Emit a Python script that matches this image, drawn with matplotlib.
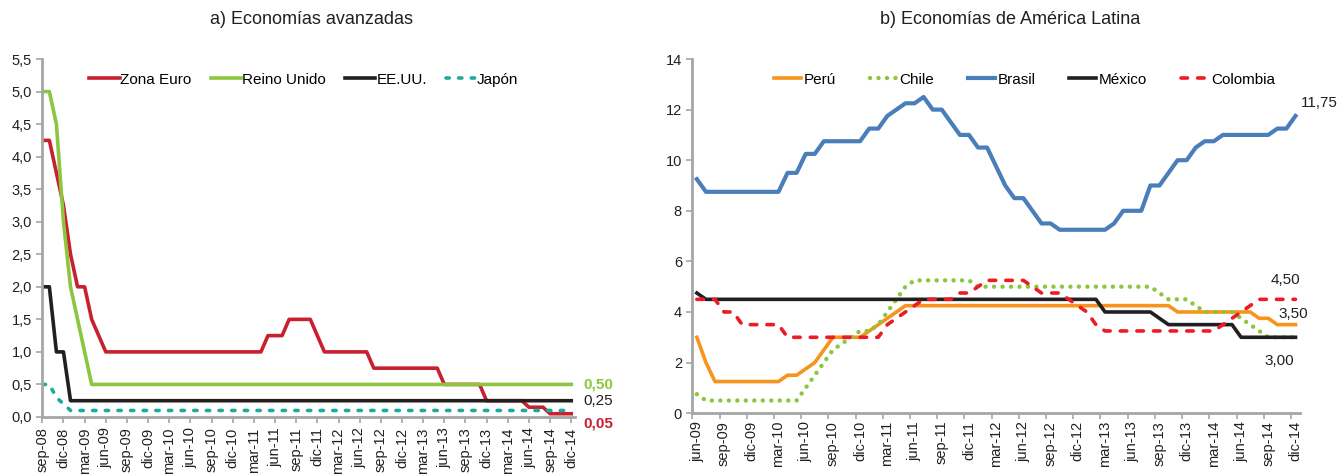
# -*- coding: utf-8 -*-
# Tasas de politica monetaria: economias avanzadas y America Latina
import matplotlib
matplotlib.use("Agg")
import matplotlib.pyplot as plt
from matplotlib.ticker import FuncFormatter

plt.rcParams["font.family"] = ["Liberation Sans", "DejaVu Sans"]

# ---------------- datos a) sep-08 .. dic-14 (mensual) ----------------
zona_euro = [4.25, 4.25, 3.75, 3.25,
             2.50, 2.00, 2.00, 1.50, 1.25, 1.00, 1.00, 1.00, 1.00, 1.00, 1.00, 1.00,
             1.00, 1.00, 1.00, 1.00, 1.00, 1.00, 1.00, 1.00, 1.00, 1.00, 1.00, 1.00,
             1.00, 1.00, 1.00, 1.00, 1.25, 1.25, 1.25, 1.50, 1.50, 1.50, 1.50, 1.25,
             1.00, 1.00, 1.00, 1.00, 1.00, 1.00, 1.00, 0.75, 0.75, 0.75, 0.75, 0.75,
             0.75, 0.75, 0.75, 0.75, 0.75, 0.50, 0.50, 0.50, 0.50, 0.50, 0.50, 0.25,
             0.25, 0.25, 0.25, 0.25, 0.25, 0.15, 0.15, 0.15, 0.05, 0.05, 0.05, 0.05]
reino_unido = [5.00, 5.00, 4.50, 3.00,
               2.00, 1.50, 1.00, 0.50, 0.50, 0.50, 0.50, 0.50, 0.50, 0.50, 0.50, 0.50,
               0.50, 0.50, 0.50, 0.50, 0.50, 0.50, 0.50, 0.50, 0.50, 0.50, 0.50, 0.50,
               0.50, 0.50, 0.50, 0.50, 0.50, 0.50, 0.50, 0.50, 0.50, 0.50, 0.50, 0.50,
               0.50, 0.50, 0.50, 0.50, 0.50, 0.50, 0.50, 0.50, 0.50, 0.50, 0.50, 0.50,
               0.50, 0.50, 0.50, 0.50, 0.50, 0.50, 0.50, 0.50, 0.50, 0.50, 0.50, 0.50,
               0.50, 0.50, 0.50, 0.50, 0.50, 0.50, 0.50, 0.50, 0.50, 0.50, 0.50, 0.50]
ee_uu = [2.00, 2.00, 1.00, 1.00,
         0.25, 0.25, 0.25, 0.25, 0.25, 0.25, 0.25, 0.25, 0.25, 0.25, 0.25, 0.25,
         0.25, 0.25, 0.25, 0.25, 0.25, 0.25, 0.25, 0.25, 0.25, 0.25, 0.25, 0.25,
         0.25, 0.25, 0.25, 0.25, 0.25, 0.25, 0.25, 0.25, 0.25, 0.25, 0.25, 0.25,
         0.25, 0.25, 0.25, 0.25, 0.25, 0.25, 0.25, 0.25, 0.25, 0.25, 0.25, 0.25,
         0.25, 0.25, 0.25, 0.25, 0.25, 0.25, 0.25, 0.25, 0.25, 0.25, 0.25, 0.25,
         0.25, 0.25, 0.25, 0.25, 0.25, 0.25, 0.25, 0.25, 0.25, 0.25, 0.25, 0.25]
japon = [0.50, 0.50, 0.30, 0.20,
         0.10, 0.10, 0.10, 0.10, 0.10, 0.10, 0.10, 0.10, 0.10, 0.10, 0.10, 0.10,
         0.10, 0.10, 0.10, 0.10, 0.10, 0.10, 0.10, 0.10, 0.10, 0.10, 0.10, 0.10,
         0.10, 0.10, 0.10, 0.10, 0.10, 0.10, 0.10, 0.10, 0.10, 0.10, 0.10, 0.10,
         0.10, 0.10, 0.10, 0.10, 0.10, 0.10, 0.10, 0.10, 0.10, 0.10, 0.10, 0.10,
         0.10, 0.10, 0.10, 0.10, 0.10, 0.10, 0.10, 0.10, 0.10, 0.10, 0.10, 0.10,
         0.10, 0.10, 0.10, 0.10, 0.10, 0.10, 0.10, 0.10, 0.10, 0.10, 0.10, 0.10]
ticks_a = ["sep-08", "dic-08", "mar-09", "jun-09", "sep-09", "dic-09", "mar-10",
           "jun-10", "sep-10", "dic-10", "mar-11", "jun-11", "sep-11", "dic-11",
           "mar-12", "jun-12", "sep-12", "dic-12", "mar-13", "jun-13", "sep-13",
           "dic-13", "mar-14", "jun-14", "sep-14", "dic-14"]

# ---------------- datos b) jun-09 .. dic-14 (mensual) ----------------
peru = [3.00, 2.00, 1.25, 1.25, 1.25, 1.25, 1.25,
        1.25, 1.25, 1.25, 1.50, 1.50, 1.75, 2.00, 2.50, 3.00, 3.00, 3.00, 3.00,
        3.25, 3.50, 3.75, 4.00, 4.25, 4.25, 4.25, 4.25, 4.25, 4.25, 4.25, 4.25,
        4.25, 4.25, 4.25, 4.25, 4.25, 4.25, 4.25, 4.25, 4.25, 4.25, 4.25, 4.25,
        4.25, 4.25, 4.25, 4.25, 4.25, 4.25, 4.25, 4.25, 4.25, 4.25, 4.00, 4.00,
        4.00, 4.00, 4.00, 4.00, 4.00, 4.00, 4.00, 3.75, 3.75, 3.50, 3.50, 3.50]
chile = [0.75, 0.50, 0.50, 0.50, 0.50, 0.50, 0.50,
         0.50, 0.50, 0.50, 0.50, 0.50, 1.00, 1.50, 2.00, 2.50, 2.75, 3.00, 3.25,
         3.25, 3.50, 4.00, 4.50, 5.00, 5.25, 5.25, 5.25, 5.25, 5.25, 5.25, 5.25,
         5.00, 5.00, 5.00, 5.00, 5.00, 5.00, 5.00, 5.00, 5.00, 5.00, 5.00, 5.00,
         5.00, 5.00, 5.00, 5.00, 5.00, 5.00, 5.00, 5.00, 4.75, 4.50, 4.50, 4.50,
         4.25, 4.00, 4.00, 4.00, 4.00, 3.75, 3.50, 3.25, 3.00, 3.00, 3.00, 3.00]
brasil = [9.25, 8.75, 8.75, 8.75, 8.75, 8.75, 8.75,
          8.75, 8.75, 8.75, 9.50, 9.50, 10.25, 10.25, 10.75, 10.75, 10.75, 10.75, 10.75,
          11.25, 11.25, 11.75, 12.00, 12.25, 12.25, 12.50, 12.00, 12.00, 11.50, 11.00, 11.00,
          10.50, 10.50, 9.75, 9.00, 8.50, 8.50, 8.00, 7.50, 7.50, 7.25, 7.25, 7.25,
          7.25, 7.25, 7.25, 7.50, 8.00, 8.00, 8.00, 9.00, 9.00, 9.50, 10.00, 10.00,
          10.50, 10.75, 10.75, 11.00, 11.00, 11.00, 11.00, 11.00, 11.00, 11.25, 11.25, 11.75]
mexico = [4.75, 4.50, 4.50, 4.50, 4.50, 4.50, 4.50,
          4.50, 4.50, 4.50, 4.50, 4.50, 4.50, 4.50, 4.50, 4.50, 4.50, 4.50, 4.50,
          4.50, 4.50, 4.50, 4.50, 4.50, 4.50, 4.50, 4.50, 4.50, 4.50, 4.50, 4.50,
          4.50, 4.50, 4.50, 4.50, 4.50, 4.50, 4.50, 4.50, 4.50, 4.50, 4.50, 4.50,
          4.50, 4.50, 4.00, 4.00, 4.00, 4.00, 4.00, 4.00, 3.75, 3.50, 3.50, 3.50,
          3.50, 3.50, 3.50, 3.50, 3.50, 3.00, 3.00, 3.00, 3.00, 3.00, 3.00, 3.00]
colombia = [4.50, 4.50, 4.50, 4.00, 4.00, 3.50, 3.50,
            3.50, 3.50, 3.50, 3.00, 3.00, 3.00, 3.00, 3.00, 3.00, 3.00, 3.00, 3.00,
            3.00, 3.00, 3.50, 3.75, 4.00, 4.25, 4.50, 4.50, 4.50, 4.50, 4.75, 4.75,
            5.00, 5.25, 5.25, 5.25, 5.25, 5.25, 5.00, 4.75, 4.75, 4.75, 4.50, 4.25,
            4.00, 3.50, 3.25, 3.25, 3.25, 3.25, 3.25, 3.25, 3.25, 3.25, 3.25, 3.25,
            3.25, 3.25, 3.25, 3.50, 3.75, 4.00, 4.25, 4.50, 4.50, 4.50, 4.50, 4.50]
ticks_b = ["jun-09", "sep-09", "dic-09", "mar-10", "jun-10", "sep-10", "dic-10",
           "mar-11", "jun-11", "sep-11", "dic-11", "mar-12", "jun-12", "sep-12",
           "dic-12", "mar-13", "jun-13", "sep-13", "dic-13", "mar-14", "jun-14",
           "sep-14", "dic-14"]

# colores
ROJO = "#c8202f"
VERDE = "#8cc63f"
NEGRO = "#231f20"
TEAL = "#1aab9b"
NARANJA = "#f7941d"
AZUL = "#4a7ebb"
ROJO2 = "#ed1c24"
GRIS = "#a6a6a6"
TXT = "#231f20"

fig = plt.figure(figsize=(13.43, 4.76), dpi=100)
ax1 = fig.add_axes([0.0315, 0.124, 0.397, 0.752])
ax2 = fig.add_axes([0.5155, 0.132, 0.4525, 0.744])


def estilo(ax):
    for s in ["top", "right"]:
        ax.spines[s].set_visible(False)
    for s in ["left", "bottom"]:
        ax.spines[s].set_color(GRIS)
        ax.spines[s].set_linewidth(2)
    ax.tick_params(axis="both", which="major", colors=GRIS, labelcolor=TXT,
                   labelsize=10.5, length=4, width=1.2)


lw = 2.6
xa = range(len(zona_euro))
ax1.plot(xa, zona_euro, color=ROJO, lw=lw, label="Zona Euro")
ax1.plot(xa, reino_unido, color=VERDE, lw=lw, label="Reino Unido")
ax1.plot(xa, ee_uu, color=NEGRO, lw=lw, label="EE.UU.")
ax1.plot(xa, japon, color=TEAL, lw=lw, ls=(0, (0.9, 2.6)),
         dash_capstyle="round", label="Japón")
estilo(ax1)
ax1.set_xlim(0, len(zona_euro) - 0.4)
ax1.set_ylim(0, 5.5)
ax1.set_yticks([0, 0.5, 1, 1.5, 2, 2.5, 3, 3.5, 4, 4.5, 5, 5.5])
ax1.yaxis.set_major_formatter(FuncFormatter(lambda v, p: f"{v:.1f}".replace(".", ",")))
ax1.set_xticks(range(0, len(zona_euro), 3))
ax1.set_xticklabels(ticks_a, rotation=90)
ax1.legend(loc="upper left", bbox_to_anchor=(0.062, 1.0), ncol=4, frameon=False,
           fontsize=11, handlelength=2.0, handletextpad=0.05, columnspacing=1.25)

n1 = len(zona_euro) - 1
ax1.annotate("0,50", xy=(n1, reino_unido[-1]), xytext=(9, 0), textcoords="offset points",
             va="center", color=VERDE, fontweight="bold", fontsize=11)
ax1.annotate("0,25", xy=(n1, ee_uu[-1]), xytext=(9, 0), textcoords="offset points",
             va="center", color=TXT, fontsize=11)
ax1.annotate("0,05", xy=(n1, zona_euro[-1]), xytext=(9, -7), textcoords="offset points",
             va="center", color=ROJO, fontweight="bold", fontsize=11, annotation_clip=False)

xb = range(len(brasil))
ax2.plot(xb, peru, color=NARANJA, lw=lw, label="Perú")
ax2.plot(xb, chile, color=VERDE, lw=lw + 0.6, ls=(0, (0.01, 1.9)),
         dash_capstyle="round", label="Chile")
ax2.plot(xb, brasil, color=AZUL, lw=lw + 0.4, label="Brasil")
ax2.plot(xb, mexico, color=NEGRO, lw=lw, label="México")
ax2.plot(xb, colombia, color=ROJO2, lw=lw, ls=(0, (1.8, 2.8)),
         dash_capstyle="round", label="Colombia")
estilo(ax2)
ax2.set_xlim(-0.5, len(brasil) - 0.5)
ax2.set_ylim(0, 14)
ax2.set_yticks(range(0, 15, 2))
# marcas entre categorias, etiquetas centradas en el dato
pos_b = list(range(0, len(brasil), 3))
ax2.set_xticks([p - 0.5 for p in pos_b])
ax2.set_xticklabels([])
ax2.set_xticks(pos_b, minor=True)
ax2.set_xticklabels(ticks_b, minor=True, rotation=90)
ax2.tick_params(axis="x", which="minor", length=0, labelsize=10.5, labelcolor=TXT, pad=5.5)
ax2.legend(loc="upper left", bbox_to_anchor=(0.112, 1.0), ncol=5, frameon=False,
           fontsize=11, handlelength=1.75, handletextpad=0.2, columnspacing=2.2)

n2 = len(brasil) - 1
ax2.annotate("11,75", xy=(n2, brasil[-1]), xytext=(4, 9), textcoords="offset points",
             va="center", color=TXT, fontsize=11)
ax2.annotate("4,50", xy=(n2, colombia[-1]), xytext=(-18, 14), textcoords="offset points",
             va="center", color=TXT, fontsize=11)
ax2.annotate("3,50", xy=(n2, peru[-1]), xytext=(-12, 8), textcoords="offset points",
             va="center", color=TXT, fontsize=11)
ax2.annotate("3,00", xy=(n2, mexico[-1]), xytext=(-22, -17), textcoords="offset points",
             va="center", color=TXT, fontsize=11)

fig.text(311 / 1343, 1 - 19 / 476, "a) Economías avanzadas", ha="center", va="center",
         fontsize=13, color=TXT)
fig.text(1010 / 1343, 1 - 19 / 476, "b) Economías de América Latina", ha="center",
         va="center", fontsize=13, color=TXT)

plt.savefig("out.png", dpi=100)
